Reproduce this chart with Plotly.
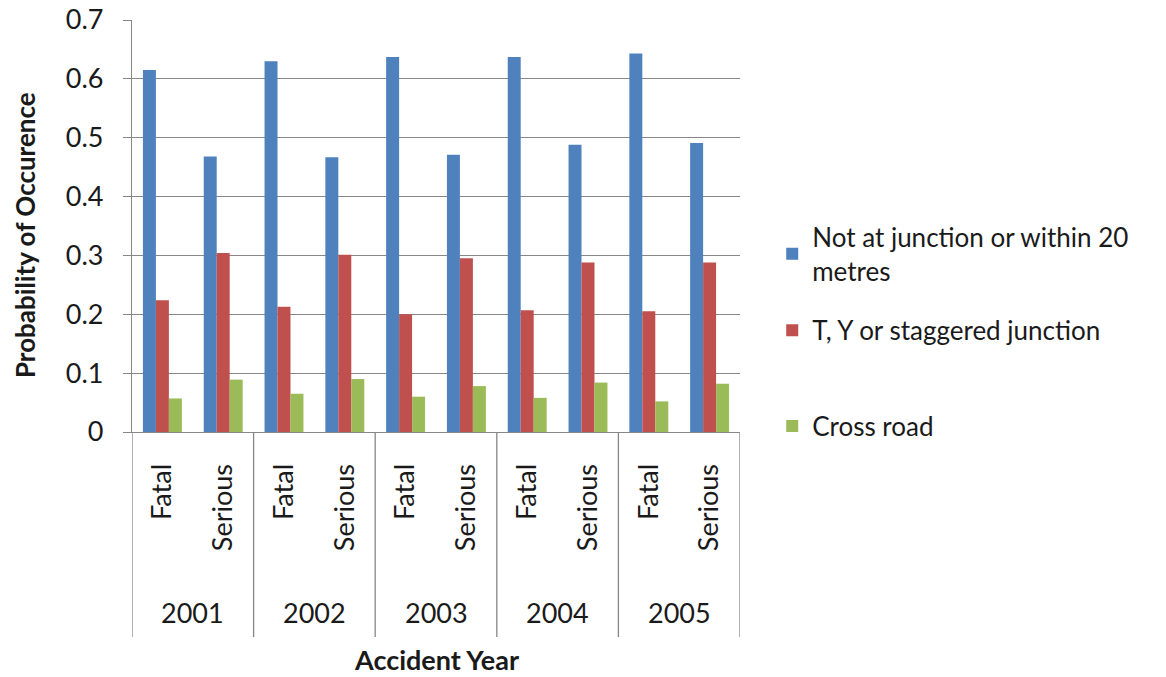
import plotly.graph_objects as go

# Accident years and severity classes along the category axis
years = ["2001", "2002", "2003", "2004", "2005"]
severities = ["Fatal", "Serious"]

# Probability of occurrence by junction type, ordered year by year (Fatal, Serious)
not_at_junction = [0.615, 0.468, 0.630, 0.467, 0.637, 0.471, 0.637, 0.488, 0.643, 0.491]
t_y_staggered = [0.224, 0.304, 0.213, 0.301, 0.200, 0.295, 0.207, 0.288, 0.205, 0.288]
cross_road = [0.057, 0.089, 0.065, 0.090, 0.060, 0.078, 0.058, 0.084, 0.052, 0.082]

series_names = ["Not at junction or within 20<br>metres", "T, Y or staggered junction", "Cross road"]
series_values = [not_at_junction, t_y_staggered, cross_road]
series_colors = ["#4F81BD", "#C0504D", "#9BBB59"]
legend_ids = ["legend", "legend2", "legend3"]

# Value axis ticks
y_tick_vals = [0, 0.1, 0.2, 0.3, 0.4, 0.5, 0.6, 0.7]
y_tick_text = ["0", "0.1", "0.2", "0.3", "0.4", "0.5", "0.6", "0.7"]

FONT = "Lato"
FS = 27
TXT = "#1a1a1a"
GRID = "#878787"

n_cat = len(years) * len(severities)
positions = list(range(n_cat))
tick_text = [s for _ in years for s in severities]

fig = go.Figure()
for name, vals, col, lg in zip(series_names, series_values, series_colors, legend_ids):
    fig.add_trace(go.Bar(
        x=positions, y=vals, name=name,
        marker=dict(color=col, line=dict(width=0)),
        legend=lg, showlegend=True,
    ))

# Year dividers below the axis
divider_x = [i * len(severities) - 0.5 for i in range(len(years) + 1)]
shapes = [
    dict(type="line", xref="x", yref="paper", x0=dx, x1=dx, y0=0, y1=-0.4976,
         line=dict(color=GRID, width=1.3))
    for dx in divider_x
]

annotations = [
    dict(text=yr, xref="x", yref="paper", x=i * len(severities) + 0.5, y=-0.438,
         showarrow=False, font=dict(family=FONT, size=FS, color=TXT),
         xanchor="center", yanchor="middle")
    for i, yr in enumerate(years)
]
annotations.append(dict(
    text="<b>Accident Year</b>", xref="paper", yref="paper", x=0.5, y=-0.553,
    showarrow=False, font=dict(family=FONT, size=27, color=TXT),
    xanchor="center", yanchor="middle"))
annotations.append(dict(
    text="<b>Probability of Occurence</b>", xref="paper", yref="paper",
    x=-0.176, y=0.478, textangle=-90, showarrow=False,
    font=dict(family=FONT, size=26, color=TXT), xanchor="center", yanchor="middle"))

legend_style = dict(font=dict(family=FONT, size=26, color=TXT), bgcolor="rgba(0,0,0,0)",
                    xanchor="left", yanchor="middle", x=1.053)

fig.update_layout(
    width=1166, height=677,
    margin=dict(l=132, r=426, t=20, b=245, autoexpand=False),
    paper_bgcolor="white", plot_bgcolor="white",
    barmode="group", bargap=0.36, bargroupgap=0,
    showlegend=True,
    font=dict(family=FONT, size=FS, color=TXT),
    xaxis=dict(
        range=[-0.5, n_cat - 0.5], tickmode="array", tickvals=positions, ticktext=tick_text,
        tickangle=-90, showgrid=False, showline=True, linecolor=GRID, linewidth=1.3,
        ticks="", ticklabelstandoff=20, tickfont=dict(family=FONT, size=FS, color=TXT),
        zeroline=False, automargin=False,
    ),
    yaxis=dict(
        range=[0, 0.7], tickmode="array", tickvals=y_tick_vals, ticktext=y_tick_text,
        showgrid=True, gridcolor=GRID, gridwidth=1.3,
        showline=True, linecolor=GRID, linewidth=1.3, ticks="outside", ticklen=8,
        tickcolor=GRID, ticklabelstandoff=14, tickfont=dict(family=FONT, size=FS, color=TXT),
        zeroline=False, automargin=False,
    ),
    legend=dict(**legend_style, y=0.432),
    legend2=dict(**legend_style, y=0.247),
    legend3=dict(**legend_style, y=0.0146),
    shapes=shapes,
    annotations=annotations,
)

fig.write_html("out.html")
